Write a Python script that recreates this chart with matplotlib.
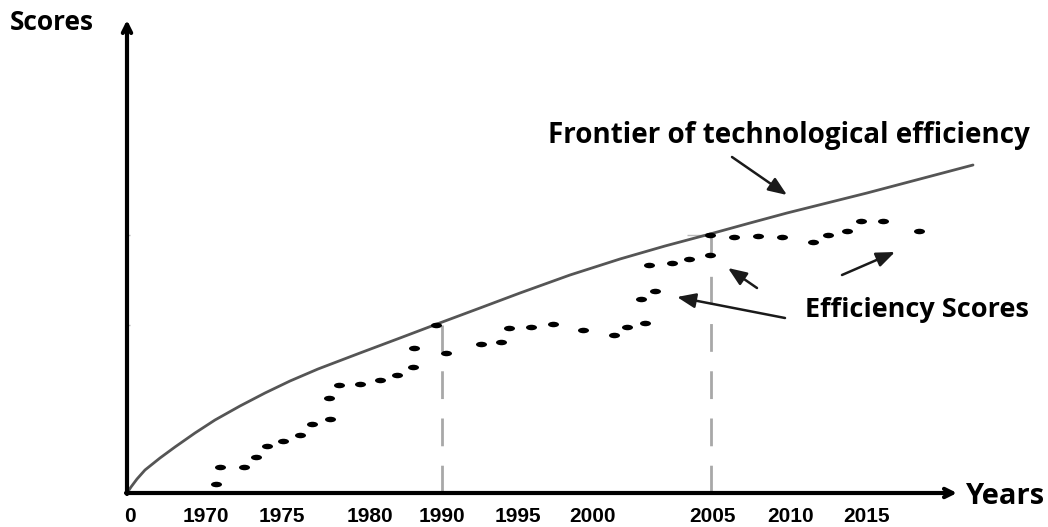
import matplotlib
matplotlib.use("Agg")
import matplotlib.pyplot as plt
from matplotlib.markers import MarkerStyle
from matplotlib.transforms import Affine2D

# schematic units (the picture has no numeric scale): x along the time axis, y = score
frontier_x = [0, 4, 10, 18, 33, 48, 68, 88, 113, 138, 163, 191, 233, 273, 310, 353,
              393, 443, 493, 538, 583, 623, 660, 700, 740, 793, 846]
frontier_y = [0, 6, 14, 23, 35, 46, 60, 73, 87, 100, 112, 124, 140, 155, 169, 185,
              200, 218, 234, 247, 259, 270, 280, 290, 300, 314, 328]

score_x = [89, 93, 117, 129, 140, 156, 173, 185, 203, 202, 212, 233, 253, 270, 286,
           287, 309, 319, 354, 374, 382, 404, 426, 456, 487, 500, 518, 514, 528, 522,
           545, 562, 583, 583, 607, 631, 655, 686, 701, 720, 734, 756, 792]
score_y = [9, 26, 26, 36, 47, 52, 58, 69, 74, 95, 108, 109, 113, 118, 126,
           145, 168, 140, 149, 151, 165, 166, 169, 163, 158, 166, 170, 194, 202, 228,
           230, 234, 238, 258, 256, 257, 256, 251, 258, 262, 272, 272, 262]

tick_pos = [3, 79, 155, 243, 315, 391, 466, 585, 664, 740]
tick_labels = ["0", "1970", "1975", "1980", "1990", "1995", "2000", "2005", "2010", "2015"]

# dashed drop lines from the frontier to the axis
drop_x = [315, 584]
drop_top = [168, 258]

W, H = 1048, 527
fig = plt.figure(figsize=(W / 100, H / 100), dpi=100)
ax = fig.add_axes([127 / W, 34 / H, (W - 127) / W, 493 / H])
ax.set_xlim(0, W - 127)
ax.set_ylim(0, 493)
for s in ax.spines.values():
    s.set_visible(False)
ax.set_yticks([])
ax.set_xticks(tick_pos, tick_labels)
ax.tick_params(axis="x", length=0, pad=10)
for lab in ax.get_xticklabels():
    lab.set_fontfamily("Liberation Sans")
    lab.set_fontweight("bold")
    lab.set_fontsize(15)

ax.vlines(drop_x, 0, drop_top, colors="#a8a8a8", linewidth=2,
          linestyles=(0, (10, 7)))
# faint marks: y-axis ticks and the small stub at the 2005 drop line
ax.hlines(drop_top, -3, 3, colors="#bbbbbb", linewidth=1)
ax.hlines(drop_top[1], 560, 584, colors="#bbbbbb", linewidth=1)

ax.plot(frontier_x, frontier_y, color="#555555", linewidth=2,
        solid_capstyle="round", solid_joinstyle="round")

dash = MarkerStyle("o", transform=Affine2D().scale(1.5, 0.75))
ax.scatter(score_x, score_y, marker=dash, s=28, color="black", zorder=3, linewidths=0)

# axes with arrows
axis_kw = dict(arrowstyle="->,head_length=0.6,head_width=0.3",
               lw=3, color="black", shrinkA=0, shrinkB=0)
ax.annotate("", xy=(0, 473), xytext=(0, -1), arrowprops=axis_kw, annotation_clip=False)
ax.annotate("", xy=(830, 0), xytext=(-1, 0), arrowprops=axis_kw, annotation_clip=False)

label_font = dict(family="Open Sans", fontweight="bold", color="black")
ax.text(-75, 471, "Scores", ha="center", va="center", fontsize=19, **label_font)
ax.text(838, -4, "Years", ha="left", va="center", fontsize=21, **label_font)
ax.text(421, 358, "Frontier of technological efficiency", ha="left", va="center",
        fontsize=20, **label_font)
ax.text(678, 183, "Efficiency Scores", ha="left", va="center", fontsize=19.5, **label_font)

arrow_kw = dict(arrowstyle="-|>,head_length=0.8,head_width=0.32", lw=1.8,
                color="#1a1a1a", shrinkA=0, shrinkB=0, mutation_scale=14)
pointers = [((605, 336), (660, 298)),
            ((630, 205), (601, 225)),
            ((715, 218), (768, 241)),
            ((658, 175), (550, 196))]
for tail, head in pointers:
    ax.annotate("", xy=head, xytext=tail, arrowprops=arrow_kw)

fig.savefig("out.png", dpi=100)
